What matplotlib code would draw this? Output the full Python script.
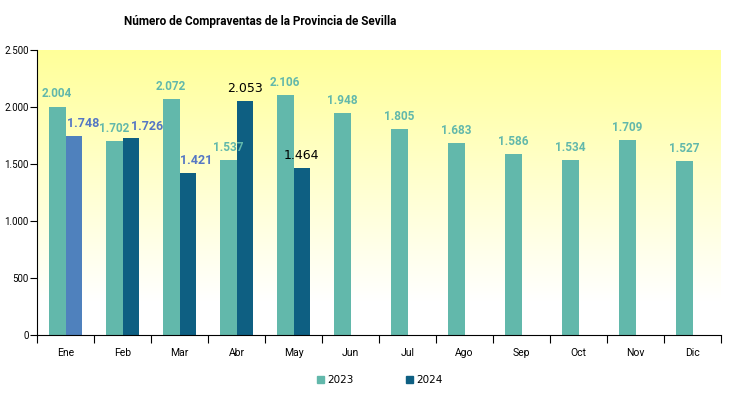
import matplotlib.pyplot as plt
import numpy as np
from matplotlib.colors import LinearSegmentedColormap
from matplotlib.ticker import FuncFormatter

months = ["Ene", "Feb", "Mar", "Abr", "May", "Jun", "Jul", "Ago", "Sep", "Oct", "Nov", "Dic"]
sales_2023 = [2004, 1702, 2072, 1537, 2106, 1948, 1805, 1683, 1586, 1534, 1709, 1527]
sales_2024 = [1748, 1726, 1421, 2053, 1464]

c23 = "#62b8ab"
c24 = "#0e5f82"
c24_first = "#4f81bd"
lab_blue = "#5577c4"

fig = plt.figure(figsize=(7.3, 3.94), dpi=100)
ax = fig.add_axes([37 / 730, 1 - 335 / 394, 684 / 730, 285 / 394])

# yellow to white gradient background
grad = np.linspace(0, 1, 256).reshape(-1, 1)
cmap = LinearSegmentedColormap.from_list("bg", [(0, "#ffffff"), (0.12, "#ffffff"), (1, "#ffff99")])
ax.imshow(grad, aspect="auto", cmap=cmap, origin="lower",
          extent=[0, 1, 0, 1], transform=ax.transAxes, zorder=0)

x = np.arange(len(months))
w = 0.29
ax.bar(x - w / 2, sales_2023, w, color=c23, zorder=2, label="2023")
cols = [c24_first] + [c24] * (len(sales_2024) - 1)
ax.bar(x[:len(sales_2024)] + w / 2, sales_2024, w, color=cols, zorder=2, label="2024")

fmt = lambda v: f"{v:,}".replace(",", ".")
for xi, v in zip(x, sales_2023):
    ax.text(xi - w / 2, v + 55, fmt(v), ha="center", va="bottom",
            fontsize=8.5, fontweight="bold", color=c23, zorder=3, family="Roboto")
shift = [0.17, 0.28, 0.14, 0, 0]
for i, v in enumerate(sales_2024):
    if i < 3:
        ax.text(x[i] + w / 2 + shift[i], v + 50, fmt(v), ha="center", va="bottom",
                fontsize=9, fontweight="bold", color=lab_blue, zorder=3, family="Roboto")
    else:
        ax.text(x[i] + w / 2, v + 50, fmt(v), ha="center", va="bottom",
                fontsize=9, color="black", zorder=3)

ax.set_xlim(-0.5, 11.5)
ax.set_ylim(0, 2500)
ax.set_yticks(range(0, 2501, 500))
ax.yaxis.set_major_formatter(FuncFormatter(lambda v, p: fmt(int(v))))
ax.set_xticks(np.arange(-0.5, 12, 1))
ax.set_xticklabels([])
ax.set_xticks(x, minor=True)
ax.set_xticklabels(months, minor=True)
ax.tick_params(axis="x", which="major", length=6, direction="out")
ax.tick_params(axis="x", which="minor", length=0, labelsize=7.5, pad=9)
ax.tick_params(axis="y", length=5, labelsize=7, pad=1)
for lab in ax.get_yticklabels() + ax.get_xticklabels(minor=True):
    lab.set_family("Roboto")

for s in ["top", "right"]:
    ax.spines[s].set_visible(False)

fig.suptitle("Número de Compraventas de la Provincia de Sevilla",
             x=260 / 730, y=1 - 21 / 394, va="center", fontsize=8.5, fontweight="bold",
             family=["Roboto", "DejaVu Sans"])

fig.legend(handles=[plt.Rectangle((0, 0), 1, 1, color=c23),
                    plt.Rectangle((0, 0), 1, 1, color=c24)],
           labels=["2023", "2024"], loc="center", bbox_to_anchor=(380 / 730, 1 - 380 / 394),
           ncol=2, frameon=False, fontsize=7.5, handlelength=0.7, handleheight=0.7,
           handletextpad=0.3, columnspacing=5)

fig.savefig("out.png", dpi=100)
